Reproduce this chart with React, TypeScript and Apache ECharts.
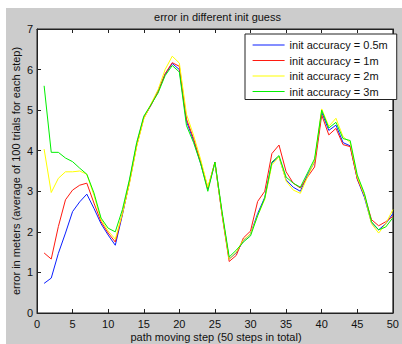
import React, { useEffect, useRef } from "react";
import * as echarts from "echarts";

const steps: number[] = Array.from({ length: 50 }, (_, i) => i + 1);

const seriesNames = [
  "init accuracy = 0.5m",
  "init accuracy = 1m",
  "init accuracy = 2m",
  "init accuracy = 3m",
];

const acc05 = [
  0.73, 0.86, 1.47, 1.97, 2.5, 2.74, 2.93, 2.58, 2.2, 1.92,
  1.67, 2.42, 3.25, 4.15, 4.82, 5.12, 5.48, 5.88, 6.15, 6.0,
  4.72, 4.25, 3.68, 3.05, 3.7, 2.45, 1.33, 1.48, 1.78, 1.95,
  2.45, 2.85, 3.7, 3.85, 3.28, 3.1, 3.0, 3.4, 3.72, 4.95,
  4.5, 4.63, 4.2, 4.12, 3.3, 2.85, 2.22, 2.05, 2.2, 2.45,
];
const acc1 = [
  1.48, 1.33, 2.13, 2.79, 3.03, 3.15, 3.2, 2.71, 2.25, 1.97,
  1.75, 2.45, 3.22, 4.12, 4.8, 5.12, 5.45, 5.9, 6.17, 6.08,
  4.78, 4.3, 3.72, 3.08, 3.72, 2.42, 1.27, 1.42, 1.85, 2.02,
  2.75, 3.0, 3.93, 4.14, 3.48, 3.2, 3.08, 3.35, 3.6, 4.88,
  4.39, 4.55, 4.15, 4.1, 3.3, 2.9, 2.3, 2.15, 2.25, 2.38,
];
const acc2 = [
  4.04, 2.97, 3.32, 3.48, 3.48, 3.5, 3.42, 2.9, 2.3, 2.02,
  1.82, 2.45, 3.2, 4.1, 4.78, 5.15, 5.5, 6.0, 6.33, 6.16,
  4.9, 4.38, 3.78, 3.1, 3.7, 2.45, 1.32, 1.5, 1.8, 1.95,
  2.4, 2.8, 3.65, 3.85, 3.25, 3.03, 2.95, 3.35, 3.75, 5.03,
  4.6, 4.8, 4.35, 4.2, 3.35, 2.9, 2.2, 1.97, 2.2, 2.55,
];
const acc3 = [
  5.6, 3.96, 3.96, 3.82, 3.73, 3.57, 3.42, 2.96, 2.34, 2.09,
  2.0, 2.55, 3.3, 4.2, 4.85, 5.13, 5.42, 5.85, 6.1, 5.94,
  4.62, 4.2, 3.68, 3.0, 3.72, 2.5, 1.38, 1.55, 1.75, 1.9,
  2.4, 2.83, 3.72, 3.88, 3.35, 3.2, 3.1, 3.45, 3.8, 5.0,
  4.56, 4.7, 4.3, 4.25, 3.4, 2.95, 2.25, 2.05, 2.12, 2.35,
];

const seriesData = [acc05, acc1, acc2, acc3];
const colors = ["#0a1eff", "#ff1a10", "#ffff00", "#00f000"];

const titleText = "error in different init guess";
const xLabelText = "path moving step (50 steps in total)";
const yLabelText = "error in meters (average of 100 trials for each step)";

const FONT = "Liberation Sans, Arial, sans-serif";

export default function App() {
  const ref = useRef<HTMLDivElement>(null);
  useEffect(() => {
    if (!ref.current) return;
    const chart = echarts.init(ref.current, undefined, { renderer: "svg" });
    const axisColor = "#222";
    const tickCommon = {
      axisLine: { show: true, onZero: false, lineStyle: { color: axisColor, width: 1 } },
      axisTick: { show: true, inside: true, length: 4, lineStyle: { color: axisColor } },
      splitLine: { show: false },
    };
    chart.setOption({
      animation: false,
      backgroundColor: "transparent",
      textStyle: { fontFamily: FONT },
      grid: {
        left: 37,
        top: 29,
        right: 4,
        bottom: 31,
        show: true,
        backgroundColor: "#ffffff",
        borderColor: axisColor,
        borderWidth: 1,
      },
      xAxis: [
        {
          type: "value",
          min: 0,
          max: 50,
          interval: 5,
          position: "bottom",
          ...tickCommon,
          axisLabel: { color: "#111", fontSize: 11, fontFamily: FONT, margin: 5 },
        },
        {
          type: "value",
          min: 0,
          max: 50,
          interval: 5,
          position: "top",
          ...tickCommon,
          axisLabel: { show: false },
        },
      ],
      yAxis: [
        {
          type: "value",
          min: 0,
          max: 7,
          interval: 1,
          position: "left",
          ...tickCommon,
          axisLabel: { color: "#111", fontSize: 11, fontFamily: FONT, margin: 4 },
        },
        {
          type: "value",
          min: 0,
          max: 7,
          interval: 1,
          position: "right",
          ...tickCommon,
          axisLabel: { show: false },
        },
      ],
      legend: {
        orient: "vertical",
        left: 245,
        top: 34,
        padding: [5, 9, 2, 7],
        itemWidth: 32,
        itemHeight: 12,
        itemGap: 3.5,
        backgroundColor: "#ffffff",
        borderColor: axisColor,
        borderWidth: 1,
        borderRadius: 0,
        itemStyle: { opacity: 0, borderWidth: 0 },
        lineStyle: { width: 1.2 },
        textStyle: { color: "#111", fontSize: 11, fontFamily: FONT, lineHeight: 12 },
        data: seriesNames,
      },
      series: seriesNames.map((name, i) => ({
        name,
        type: "line",
        xAxisIndex: 0,
        yAxisIndex: 0,
        symbol: "none",
        showSymbol: false,
        color: colors[i],
        lineStyle: { color: colors[i], width: 1 },
        data: steps.map((s, j) => [s, seriesData[i][j]]),
      })),
      graphic: [
        {
          type: "text",
          x: 217.5,
          y: 17,
          style: {
            text: titleText,
            textAlign: "center",
            textVerticalAlign: "middle",
            font: `11px ${FONT}`,
            fill: "#111",
          },
        },
        {
          type: "text",
          x: 216,
          y: 337,
          style: {
            text: xLabelText,
            textAlign: "center",
            textVerticalAlign: "middle",
            font: `11px ${FONT}`,
            fill: "#111",
          },
        },
        {
          type: "text",
          x: 16,
          y: 171,
          rotation: Math.PI / 2,
          style: {
            text: yLabelText,
            textAlign: "center",
            textVerticalAlign: "middle",
            font: `11px ${FONT}`,
            fill: "#111",
          },
        },
      ],
    });
    return () => chart.dispose();
  }, []);

  return (
    <div style={{ position: "fixed", left: 0, top: 0, width: 402, height: 344, background: "#ffffff" }}>
      <div style={{ position: "absolute", left: 6, top: 8, width: 396, height: 336, background: "#cccccc" }} />
      <div ref={ref} style={{ position: "absolute", left: 0, top: 0, width: 402, height: 344 }} />
    </div>
  );
}
